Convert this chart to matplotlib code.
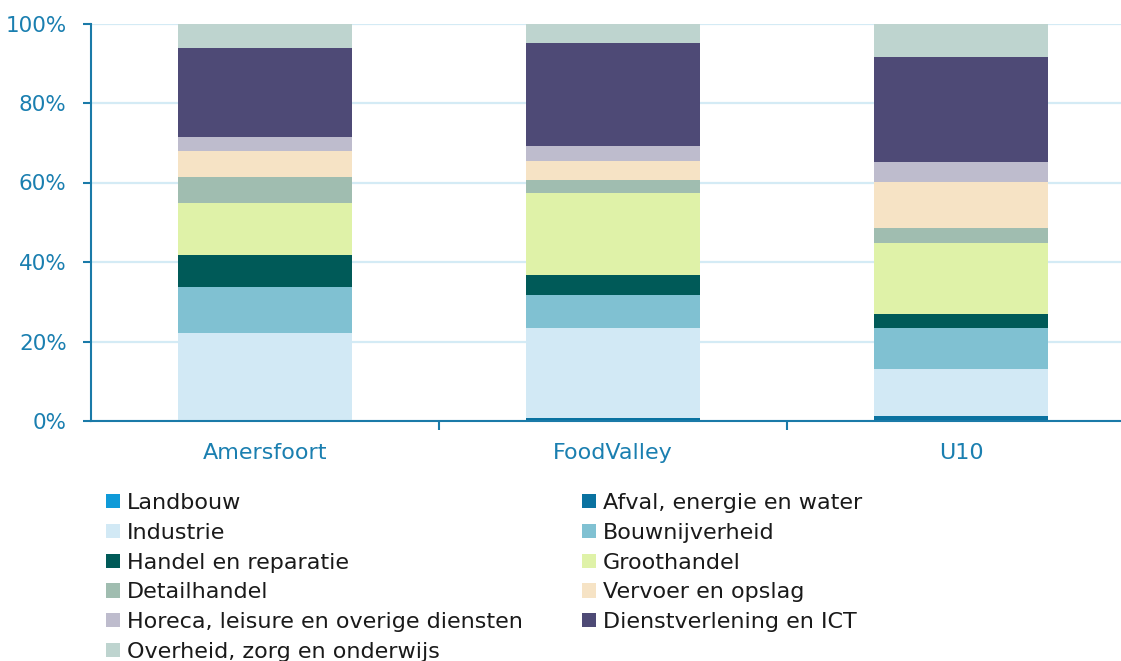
import matplotlib
matplotlib.use("Agg")
import matplotlib.pyplot as plt
import numpy as np
from matplotlib.patches import Patch
from matplotlib.ticker import FixedLocator, FuncFormatter

regions = ["Amersfoort", "FoodValley", "U10"]
sectors = ["Landbouw", "Afval, energie en water", "Industrie", "Bouwnijverheid",
           "Handel en reparatie", "Groothandel", "Detailhandel", "Vervoer en opslag",
           "Horeca, leisure en overige diensten", "Dienstverlening en ICT",
           "Overheid, zorg en onderwijs"]
# shares (%) per sector, order: Amersfoort, FoodValley, U10
landbouw = [0.0, 0.0, 0.0]
afval = [0.0, 0.7, 1.3]
industrie = [22.1, 22.7, 11.9]
bouw = [11.6, 8.2, 10.2]
handel = [8.1, 5.1, 3.6]
groothandel = [13.1, 20.7, 17.7]
detailhandel = [6.5, 3.2, 3.9]
vervoer = [6.4, 4.9, 11.5]
horeca = [3.7, 3.7, 5.1]
dienst = [22.3, 25.8, 26.4]
overheid = [6.2, 5.0, 8.4]
yticks = [0, 20, 40, 60, 80, 100]

series = [landbouw, afval, industrie, bouw, handel, groothandel, detailhandel,
          vervoer, horeca, dienst, overheid]
colors = ["#0f9ad8", "#0a72a0", "#d2e9f5", "#80c1d2", "#005a58", "#dff2a8",
          "#a0bdb0", "#f6e3c5", "#bebccd", "#4e4a76", "#bed4cf"]

axis_col = "#1a7aa8"
lbl_col = "#1a7fb0"

fig = plt.figure(figsize=(11.21, 6.61), dpi=100)
W, H = 1121, 661
ax = fig.add_axes([91 / W, (H - 421) / H, 1044 / W, (421 - 23.5) / H])

x = np.arange(len(regions))
bottom = np.zeros(len(regions))
for vals, c in zip(series, colors):
    v = np.array(vals)
    ax.bar(x, v, bottom=bottom, width=0.5, color=c, linewidth=0, zorder=3)
    bottom += v

ax.set_xlim(-0.5, 2.5)
ax.set_ylim(0, 100)
ax.yaxis.set_major_locator(FixedLocator(yticks))
ax.yaxis.set_major_formatter(FuncFormatter(lambda v, p: f"{int(v)}%"))
ax.grid(axis="y", color="#d4ebf5", linewidth=1.6, zorder=0)
ax.set_axisbelow(True)

ax.set_xticks(x)
ax.set_xticklabels(regions)
ax.set_xticks([0.5, 1.5], minor=True)
ax.tick_params(axis="x", which="major", length=0, pad=16, labelsize=16, labelcolor=lbl_col)
ax.tick_params(axis="x", which="minor", length=6.5, width=1.5, color=axis_col)
ax.tick_params(axis="y", length=6, width=1.5, color=axis_col, pad=11.5,
               labelsize=15.5, labelcolor=lbl_col)

for s in ["top", "right"]:
    ax.spines[s].set_visible(False)
for s in ["left", "bottom"]:
    ax.spines[s].set_color(axis_col)
    ax.spines[s].set_linewidth(1.5)
    ax.spines[s].set_zorder(4)

handles = [Patch(facecolor=c, edgecolor="none") for c in colors]
col1 = [0, 2, 4, 6, 8, 10]
col2 = [1, 3, 5, 7, 9]
top_y = (H - 493) / H
common = dict(loc="upper left", frameon=False, fontsize=16, borderpad=0,
              borderaxespad=0, handlelength=0.64, handleheight=0.6,
              handletextpad=0.3, labelspacing=0.44)
leg1 = fig.legend([handles[i] for i in col1], [sectors[i] for i in col1],
                  bbox_to_anchor=(106 / W, top_y), labelcolor="#1a1a1a", **common)
leg2 = fig.legend([handles[i] for i in col2], [sectors[i] for i in col2],
                  bbox_to_anchor=(582 / W, top_y), labelcolor="#1a1a1a", **common)

fig.savefig("out.png", dpi=100)
